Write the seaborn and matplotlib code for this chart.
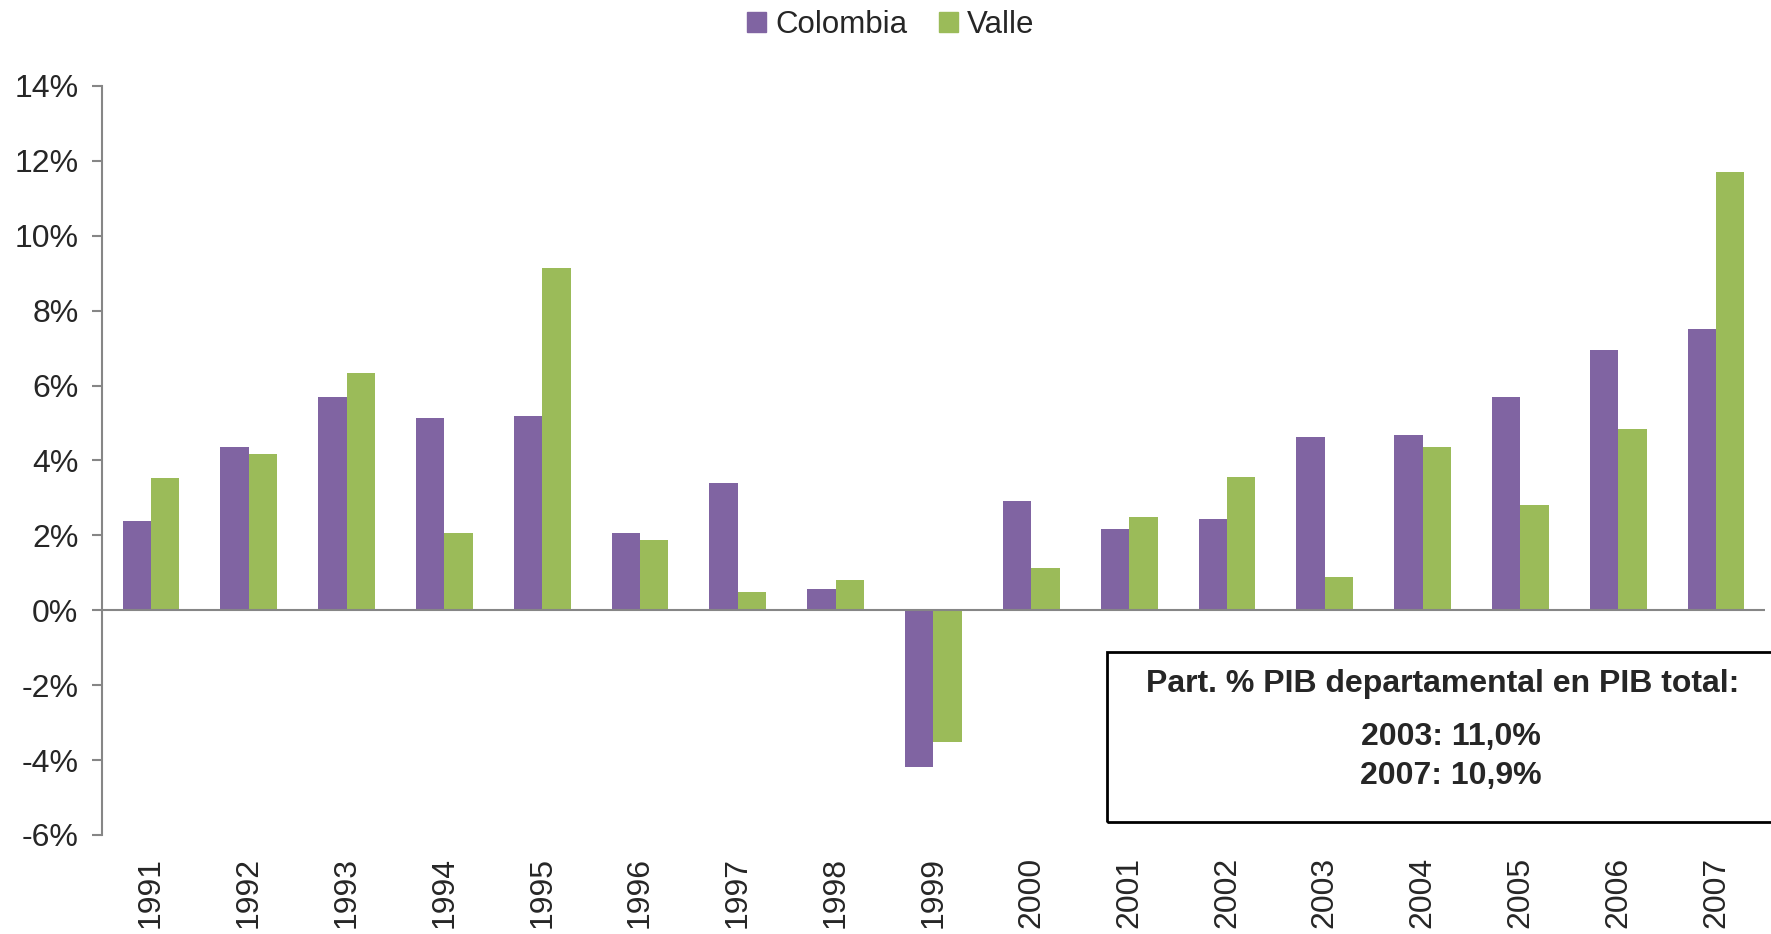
import pandas as pd
import numpy as np
import matplotlib
matplotlib.use("Agg")
import matplotlib.pyplot as plt
import matplotlib.ticker as mticker
import matplotlib.patches as mpatches
import seaborn as sns

years = [str(y) for y in range(1991, 2008)]
colombia = [2.38, 4.35, 5.70, 5.13, 5.19, 2.05, 3.41, 0.57, -4.19, 2.93,
            2.17, 2.44, 4.62, 4.68, 5.70, 6.94, 7.51]
valle = [3.53, 4.16, 6.34, 2.05, 9.14, 1.87, 0.48, 0.81, -3.53, 1.12,
         2.50, 3.56, 0.88, 4.35, 2.81, 4.83, 11.71]
series_names = ["Colombia", "Valle"]
colors = ["#8064A2", "#9BBB59"]

box_title = "Part. % PIB departamental en PIB total:"
box_lines = ["2003: 11,0%", "2007: 10,9%"]

df = pd.DataFrame({
    "year": years * 2,
    "value": colombia + valle,
    "serie": [series_names[0]] * len(years) + [series_names[1]] * len(years),
})

sns.set_style("white")
plt.rcParams["font.family"] = ["Liberation Sans", "DejaVu Sans"]

fig = plt.figure(figsize=(17.71, 9.34), dpi=100)
ax = fig.add_axes([0.0576, 0.106, 0.939, 0.802])

sns.barplot(data=df, x="year", y="value", hue="serie", palette=colors,
            saturation=1, width=0.58, linewidth=0, ax=ax, legend=False)

ax.set_xlim(-0.5, len(years) - 0.5)
ax.set_ylim(-6, 14)
ax.set_yticks(np.arange(-6, 15, 2))
ax.yaxis.set_major_formatter(mticker.FuncFormatter(lambda v, p: "{:.0f}%".format(v)))
ax.axhline(0, color="#868686", lw=1.5, zorder=3)

for s in ["top", "right", "bottom"]:
    ax.spines[s].set_visible(False)
ax.spines["left"].set_color("#868686")
ax.spines["left"].set_linewidth(1.5)

ax.tick_params(axis="y", which="major", left=True, length=7, width=1.5,
               color="#868686", labelsize=23, pad=10)
ax.tick_params(axis="x", bottom=False, labelsize=23, pad=12, labelrotation=90)
ax.set_xlabel("")
ax.set_ylabel("")

handles = [mpatches.Patch(color=c, label=n) for c, n in zip(colors, series_names)]
fig.legend(handles=handles, loc="center", bbox_to_anchor=(0.503, 0.973), ncol=2,
           frameon=False, fontsize=22.5, handlelength=0.6, handleheight=0.6,
           handletextpad=0.3, columnspacing=1.0)

# annotation box
rect = mpatches.Rectangle((1107 / 1771, 1 - 822 / 934), 0.4, (822 - 652) / 934,
                          transform=fig.transFigure, fill=False, edgecolor="black",
                          lw=2, zorder=5)
fig.patches.append(rect)
fig.text(1443 / 1771, 1 - 684 / 934, box_title, ha="center", va="center",
         fontsize=23, fontweight="bold")
fig.text(1451 / 1771, 1 - 737 / 934, box_lines[0], ha="center", va="center",
         fontsize=23, fontweight="bold")
fig.text(1451 / 1771, 1 - 776 / 934, box_lines[1], ha="center", va="center",
         fontsize=23, fontweight="bold")

fig.savefig("out.png", dpi=100)
